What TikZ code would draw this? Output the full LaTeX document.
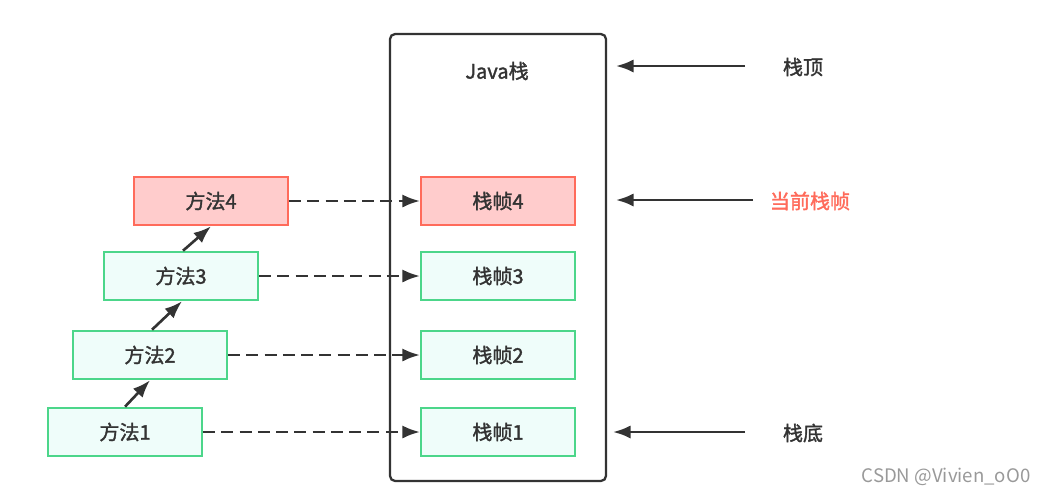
\documentclass[tikz,border=0pt]{standalone}
\usepackage{fontspec}
\setmainfont{Noto Sans CJK SC}[AutoFakeBold=1.6]
\usetikzlibrary{arrows.meta}
\definecolor{ink}{HTML}{333333}
\definecolor{greenline}{HTML}{4CD68A}
\definecolor{greenfill}{HTML}{EFFDFA}
\definecolor{redline}{HTML}{FF6B5B}
\definecolor{redfill}{HTML}{FFCCCC}
\definecolor{marktext}{HTML}{999999}
\begin{document}
\begin{tikzpicture}[x=0.02cm, y=-0.02cm,
		every node/.style = {font=\fontsize{11.4}{13}\selectfont\bfseries, text=ink},
		framebox/.style = {draw=greenline, fill=greenfill, line width=1.2pt, minimum width=3.08cm, minimum height=0.97cm},
		hotbox/.style = {framebox, draw=redline, fill=redfill},
		callarrow/.style = {-{Latex[length=10pt,width=7.5pt]}, draw=ink, line width=1.5pt},
		linkarrow/.style = {callarrow, dash pattern=on 6.8pt off 3.6pt}]
		\useasboundingbox (0, 0) rectangle (1046, 495);
		% Java stack
		\node[draw=ink, line width=1.3pt, rounded corners=0.1cm, minimum width=4.32cm, minimum height=8.94cm] (stack) at (498, 257.5) {};
		\node (title) at (497, 71) {Java栈};
		\node[hotbox] (f4) at (498, 201) {栈帧4};
		\node[framebox] (f3) at (498, 276) {栈帧3};
		\node[framebox] (f2) at (498, 355) {栈帧2};
		\node[framebox] (f1) at (498, 432) {栈帧1};
		% methods
		\node[hotbox] (m4) at (211, 201) {方法4};
		\node[framebox] (m3) at (181, 276) {方法3};
		\node[framebox] (m2) at (150, 355) {方法2};
		\node[framebox] (m1) at (125, 432) {方法1};
		\draw[callarrow] (m1.north) -- (m2.south);
		\draw[callarrow] (m2.north) ++(2, 0) -- ([xshift=0.02cm]m3.south);
		\draw[callarrow] (m3.north) ++(2, 0) -- (m4.south);
		\foreach \i in {1, 2, 3, 4}
			\draw[linkarrow] (m\i.east) -- (f\i.west);
		% labels on the right
		\node (toplbl) at (803, 67) {栈顶};
		\node[text=redline] (curlbl) at (810, 201) {当前栈帧};
		\node (botlbl) at (803, 433) {栈底};
		\coordinate (toptail) at (745, 66);
		\coordinate (tophead) at (616, 66);
		\coordinate (curtail) at (753, 200);
		\coordinate (curhead) at (616, 200);
		\coordinate (bottail) at (745, 432);
		\coordinate (bothead) at (613, 432);
		\draw[callarrow] (toptail) -- (tophead);
		\draw[callarrow] (curtail) -- (curhead);
		\draw[callarrow] (bottail) -- (bothead);
		\node[text=marktext, font=\fontsize{10.6}{12}\selectfont] (mark) at (946, 477) {CSDN @Vivien\_oO0};
	\end{tikzpicture}
\end{document}
